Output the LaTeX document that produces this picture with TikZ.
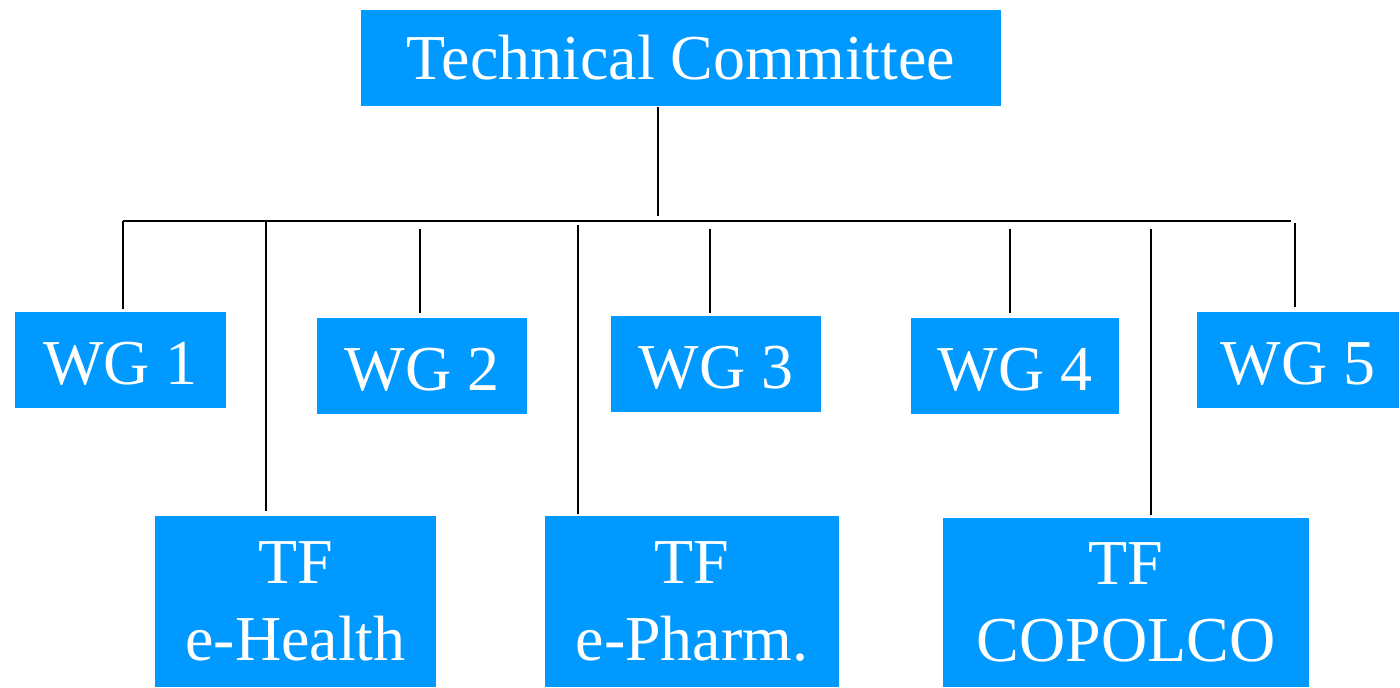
\documentclass[tikz,border=0pt]{standalone}
\usepackage{fontspec}
\setmainfont{Liberation Serif}
\definecolor{tcblue}{HTML}{0099FF}
\tikzset{
  box/.style={fill=tcblue,text=white,inner sep=0pt,align=center,
    font=\fontsize{32}{38.5}\selectfont},
  wg/.style={box,minimum height=48pt,text height=24pt,text depth=0pt},
  tf/.style={box,minimum height=85.5pt},
}
\begin{document}
\begin{tikzpicture}[x=0.5pt,y=-0.5pt,line width=0.65pt]
	\useasboundingbox (0,0) rectangle (1400,687);
	%\draw[line width=0.2pt] (0,0) grid[step=100] (1400,687);
	\node[box,minimum width=320pt,minimum height=48pt] (tc) at (681,58) {Technical Committee};
	\node[wg,minimum width=105.5pt] (wg1) at (120.5,360) {WG 1};
	\node[wg,minimum width=105pt] (wg2) at (422,366) {WG 2};
	\node[wg,minimum width=105pt] (wg3) at (716,364) {WG 3};
	\node[wg,minimum width=104pt] (wg4) at (1015,366) {WG 4};
	\node[wg,minimum width=101pt] (wg5) at (1298,360) {WG 5};
	\node[tf,minimum width=140.5pt] (eh) at (295.5,601.5) {TF\\e-Health};
	\node[tf,minimum width=147pt] (ep) at (692,601.5) {TF\\e-Pharm.};
	\node[tf,minimum width=183pt,minimum height=84.5pt] (cop) at (1126,602.5) {TF\\COPOLCO};
	% bus
	\coordinate (bl) at (123,221);
	\coordinate (br) at (1291,221);
	\coordinate (stem) at (658,216);
	\draw (tc.south -| stem) -- (stem);
	\draw (bl) -- (br);
	% branches
	\coordinate (t1) at (123,221);
	\coordinate (t2) at (266,221);
	\coordinate (t3) at (420,229);
	\coordinate (t4) at (578,225);
	\coordinate (t5) at (710,229);
	\coordinate (t6) at (1010,229);
	\coordinate (t7) at (1151,229);
	\coordinate (t8) at (1295,223);
	\draw (t1) -- ([yshift=1pt]t1 |- wg1.north);
	\draw (t2) -- ([yshift=2pt]t2 |- eh.north);
	\draw (t3) -- ([yshift=2pt]t3 |- wg2.north);
	\draw (t4) -- ([yshift=0.5pt]t4 |- ep.north);
	\draw (t5) -- ([yshift=1pt]t5 |- wg3.north);
	\draw (t6) -- ([yshift=2pt]t6 |- wg4.north);
	\draw (t7) -- ([yshift=1pt]t7 |- cop.north);
	\draw (t8) -- ([yshift=2pt]t8 |- wg5.north);
\end{tikzpicture}
\end{document}
